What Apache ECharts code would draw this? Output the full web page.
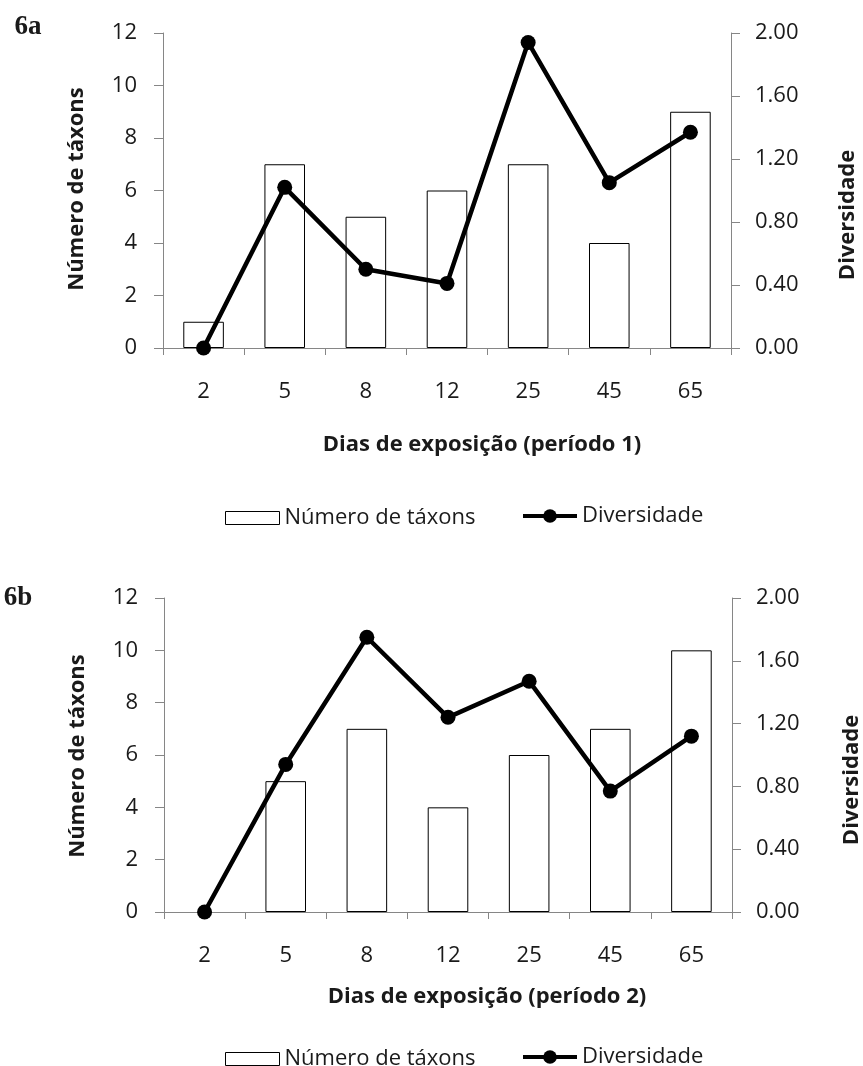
<!DOCTYPE html>
<html>
<head>
<meta charset="utf-8">
<script src="https://cdn.jsdelivr.net/npm/echarts@6/dist/echarts.min.js"></script>
<style>
  html, body { margin: 0; padding: 0; background: #fff; }
  #chart { width: 863px; height: 1066px; }
</style>
</head>
<body>
<div id="chart"></div>
<script>
// Days of exposure (categories shared by both panels)
const categories = ['2', '5', '8', '12', '25', '45', '65'];

// Panel 6a — period 1
const taxa1 = [1, 7, 5, 6, 7, 4, 9];
const diversity1 = [0.00, 1.02, 0.50, 0.41, 1.94, 1.05, 1.37];

// Panel 6b — period 2
const taxa2 = [0, 5, 7, 4, 6, 7, 10];
const diversity2 = [0.00, 0.94, 1.75, 1.24, 1.47, 0.77, 1.12];

const taxaTicks = { min: 0, max: 12, interval: 2 };
const diversityTicks = { min: 0, max: 2, interval: 0.4 };

const FONT = '"Open Sans", "Liberation Sans", sans-serif';
const TEXT = '#1a1a1a';
const AXIS = '#868686';

const chart = echarts.init(document.getElementById('chart'), null, { renderer: 'canvas' });

function xAxisFor(gridIndex) {
  return {
    type: 'category', gridIndex, data: categories, boundaryGap: true,
    axisLine: { lineStyle: { color: AXIS, width: 1 } },
    axisTick: { show: true, length: 7, inside: false, alignWithLabel: false, lineStyle: { color: AXIS } },
    axisLabel: { margin: 33, color: TEXT, fontFamily: FONT, fontSize: 22 },
    splitLine: { show: false }
  };
}
function leftAxisFor(gridIndex) {
  return {
    type: 'value', gridIndex, position: 'left', ...taxaTicks,
    axisLine: { show: true, lineStyle: { color: AXIS } },
    axisTick: { show: true, length: 9, lineStyle: { color: AXIS } },
    axisLabel: { margin: 26, color: TEXT, fontFamily: FONT, fontSize: 22 },
    splitLine: { show: false }
  };
}
function rightAxisFor(gridIndex) {
  return {
    type: 'value', gridIndex, position: 'right', ...diversityTicks,
    axisLine: { show: true, lineStyle: { color: AXIS } },
    axisTick: { show: true, length: 9, lineStyle: { color: AXIS } },
    axisLabel: { margin: 24, color: TEXT, fontFamily: FONT, fontSize: 22,
                 formatter: v => v.toFixed(2) },
    splitLine: { show: false }
  };
}
function barSeries(values, idx) {
  // an empty category (0 taxa) gets no outline so nothing is drawn on the axis
  const data = values.map(v => v === 0 ? { value: v, itemStyle: { borderWidth: 0, opacity: 0 } } : v);
  return {
    name: 'Número de táxons', type: 'bar', data,
    xAxisIndex: idx, yAxisIndex: idx * 2, barWidth: '50%',
    itemStyle: { color: '#ffffff', borderColor: '#000000', borderWidth: 1 },
    emphasis: { disabled: true }, animation: false
  };
}
function lineSeries(data, idx) {
  return {
    name: 'Diversidade', type: 'line', data,
    xAxisIndex: idx, yAxisIndex: idx * 2 + 1,
    symbol: 'circle', symbolSize: 15, clip: false,
    lineStyle: { color: '#000', width: 4.5 },
    itemStyle: { color: '#000' },
    emphasis: { disabled: true }, animation: false, z: 5
  };
}
function legendAt(left, centerY, name, isLine) {
  const item = isLine
    ? { name }
    : { name, icon: 'rect', itemStyle: { color: '#fff', borderColor: '#000', borderWidth: 1 } };
  const h = isLine ? 17 : 13;
  return {
    left, top: centerY - h / 2, data: [item], orient: 'horizontal', padding: 0,
    itemWidth: 54, itemHeight: h, itemGap: 0,
    lineStyle: { width: 4, color: '#000' },
    textStyle: { color: TEXT, fontFamily: FONT, fontSize: 22 },
    selectedMode: false
  };
}
function label(text, x, y, opts) {
  return {
    type: 'text', x, y, rotation: opts.rotation || 0, silent: true,
    style: {
      text, fill: TEXT,
      font: (opts.weight || 'normal') + ' ' + opts.size + 'px ' + (opts.family || FONT),
      align: 'center', verticalAlign: 'middle',
      textAlign: 'center', textVerticalAlign: 'middle'
    }
  };
}

chart.setOption({
  backgroundColor: '#ffffff',
  animation: false,
  grid: [
    { left: 163, top: 33, width: 568, height: 315 },
    { left: 164, top: 598, width: 568, height: 314 }
  ],
  xAxis: [xAxisFor(0), xAxisFor(1)],
  yAxis: [leftAxisFor(0), rightAxisFor(0), leftAxisFor(1), rightAxisFor(1)],
  legend: [
    legendAt(225, 513.5, 'Número de táxons', false),
    legendAt(521, 513.5, 'Diversidade', true),
    legendAt(225, 1054.5, 'Número de táxons', false),
    legendAt(521, 1054.5, 'Diversidade', true)
  ],
  series: [
    barSeries(taxa1, 0), lineSeries(diversity1, 0),
    barSeries(taxa2, 1), lineSeries(diversity2, 1)
  ],
  graphic: [
    label('6a', 28, 27, { size: 27, weight: 'bold', family: '"Liberation Serif", serif' }),
    label('6b', 18, 598, { size: 27, weight: 'bold', family: '"Liberation Serif", serif' }),
    label('Número de táxons', 77, 189, { size: 22, weight: 'bold', rotation: Math.PI / 2 }),
    label('Número de táxons', 78, 756, { size: 22, weight: 'bold', rotation: Math.PI / 2 }),
    label('Diversidade', 848, 215, { size: 22, weight: 'bold', rotation: Math.PI / 2 }),
    label('Diversidade', 852, 780, { size: 22, weight: 'bold', rotation: Math.PI / 2 }),
    label('Dias de exposição (período 1)', 482, 445, { size: 22, weight: 'bold' }),
    label('Dias de exposição (período 2)', 487, 997, { size: 22, weight: 'bold' })
  ]
});
</script>
</body>
</html>
